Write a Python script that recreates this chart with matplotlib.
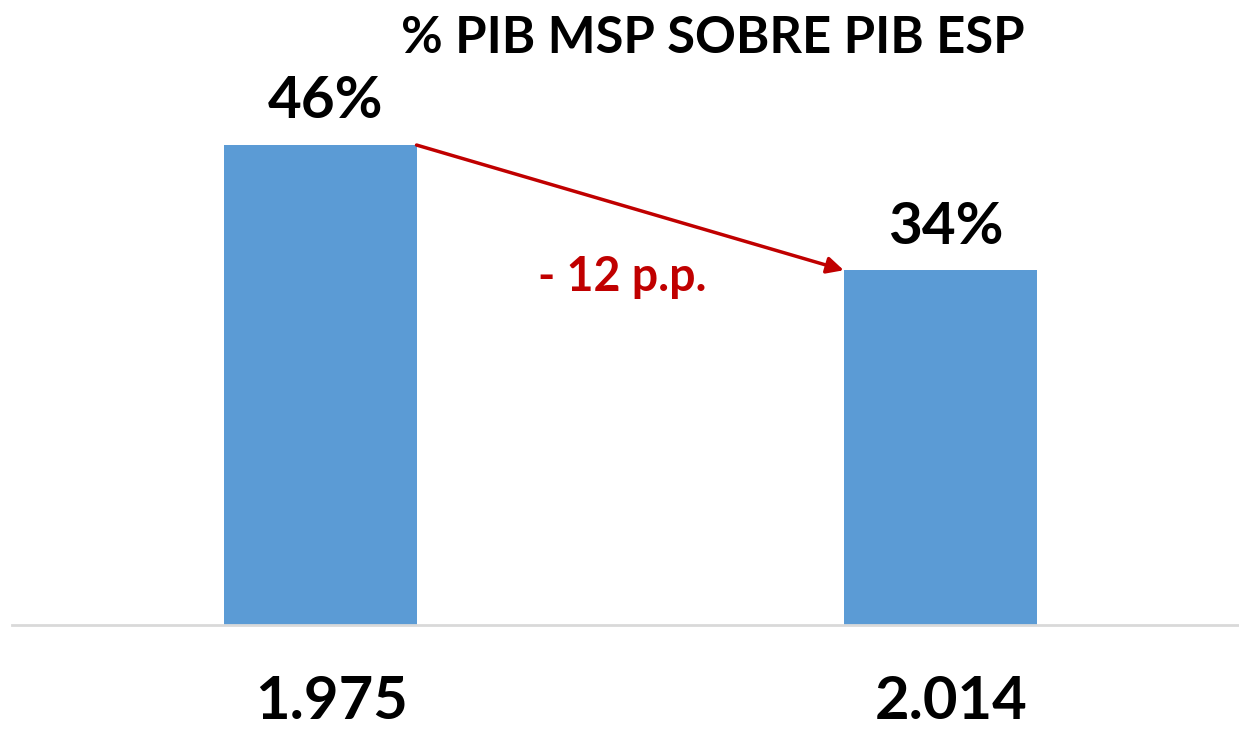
import matplotlib.pyplot as plt
import matplotlib.transforms as mtransforms

plt.rcParams['font.family'] = ['Lato', 'DejaVu Sans']

years = ["1.975", "2.014"]
values = [46, 34]
labels = ["46%", "34%"]
diff_label = "- 12 p.p."

bar_color = "#5B9BD5"
red = "#C00000"

fig = plt.figure(figsize=(12.39, 7.31), dpi=100)
ax = fig.add_axes([12 / 1239, 1 - 625 / 731, 1 - 12 / 1239, 625 / 731])

x = list(range(len(years)))
bars = ax.bar(x, values, width=0.311, color=bar_color)

for xi, v, lab in zip(x, values, labels):
    ax.annotate(lab, (xi, v), xytext=(4, 12), textcoords="offset points",
                ha="center", va="bottom", fontsize=42, fontweight="bold")

# arrow between bar tops
half = 0.311 / 2
ax.annotate("", xy=(x[1] - half, values[1]), xytext=(x[0] + half, values[0]),
            arrowprops=dict(arrowstyle="-|>", color=red, lw=2.5,
                            mutation_scale=25, shrinkA=0, shrinkB=0))
ax.text(0.487, 33.4, diff_label, color=red, fontsize=33.5, fontweight="bold",
        ha="center", va="center")

ax.set_xlim(-0.497, 1.482)
ax.set_ylim(0, 59.9)
ax.set_xticks(x)
ax.set_xticklabels(years, fontsize=43, fontweight="bold")
ax.tick_params(axis="x", length=0, pad=36)
shift = mtransforms.ScaledTranslation(8 / 72, 0, fig.dpi_scale_trans)
for lbl in ax.get_xticklabels():
    lbl.set_transform(lbl.get_transform() + shift)
ax.set_yticks([])
for side in ["top", "right", "left"]:
    ax.spines[side].set_visible(False)
ax.spines["bottom"].set_color("#D9D9D9")
ax.spines["bottom"].set_linewidth(2)

fig.text(0.575, 0.948, "% PIB MSP SOBRE PIB ESP", ha="center", va="center",
         fontsize=36.5, fontweight="bold")

fig.savefig("out.png", dpi=100)
